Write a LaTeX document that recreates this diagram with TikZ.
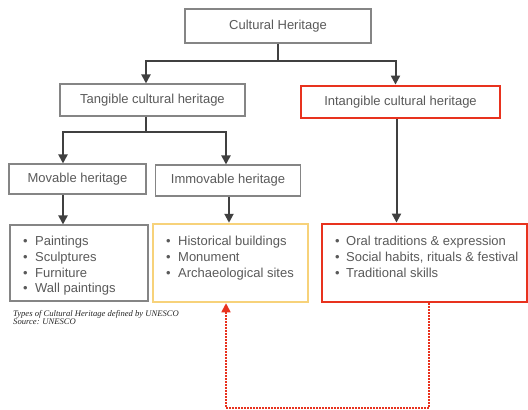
\documentclass[tikz,border=0pt]{standalone}
\usepackage{fontspec}
\setmainfont{Liberation Sans}
\newfontfamily\capfont{Liberation Serif}
\usetikzlibrary{arrows.meta}
\definecolor{txt}{HTML}{5A5A5A}
\definecolor{bord}{HTML}{858585}
\definecolor{arrc}{HTML}{404040}
\definecolor{redc}{HTML}{E8321E}
\definecolor{yelc}{HTML}{F7D27A}
\newcommand{\bl}{\makebox[12pt][l]{•}}
\begin{document}
\begin{tikzpicture}[x=1pt,y=-1pt,
  box/.style={draw=bord,line width=1.1pt,text=txt,font=\fontsize{13}{15}\selectfont,inner sep=0pt},
  lst/.style={text=txt,font=\fontsize{13}{15.7}\selectfont,align=left,inner sep=0pt,anchor=north west},
  arr/.style={draw=arrc,line width=2pt,-{Triangle[width=9pt,length=9pt]}},
  dots/.style={draw=redc,line width=1.6pt,dash pattern=on 1.6pt off 1.4pt,-{Triangle[width=9pt,length=9pt]}}]
\useasboundingbox (0,0) rectangle (528,410);
\fill[white] (0,0) rectangle (528,410);
% top level
\node[box,minimum width=186pt,minimum height=34pt] (ch) at (278,26) {Cultural Heritage};
\node[box,minimum width=185pt,minimum height=32pt] (tang) at (152.5,100) {Tangible cultural heritage};
\node[box,draw=redc,line width=2.8pt,minimum width=199pt,minimum height=32pt] (intang) at (400.5,102) {Intangible cultural heritage};
\node[box,minimum width=137pt,minimum height=30pt] (mov) at (77.5,179) {Movable heritage};
\node[box,minimum width=145pt,minimum height=31pt] (imm) at (228,180.5) {Immovable heritage};
% item boxes
\node[box,minimum width=138pt,minimum height=76pt] (movl) at (79,263) {};
\node[box,draw=yelc,line width=2.5pt,minimum width=155pt,minimum height=78pt] (imml) at (230.5,263) {};
\node[box,draw=redc,line width=2.8pt,minimum width=205pt,minimum height=78pt] (intl) at (424.5,263) {};
\node[lst] (movt) at (23,236) {\bl Paintings\\\bl Sculptures\\\bl Furniture\\\bl Wall paintings};
\node[lst] (immt) at (166,236) {\bl Historical buildings\\\bl Monument\\\bl Archaeological sites};
\node[lst] (intt) at (335,236) {\makebox[11pt][l]{•}Oral traditions \& expression\\\makebox[11pt][l]{•}Social habits, rituals \& festival\\\makebox[11pt][l]{•}Traditional skills};
% caption
\node[inner sep=0pt,anchor=north west,align=left,font=\capfont\itshape\fontsize{8.6}{8}\selectfont,text=black!85] (cap) at (13,310) {Types of Cultural Heritage defined by UNESCO\\Source: UNESCO};
% connectors
\coordinate (j1) at (278,61);
\draw[arr] (ch.south) -- (j1) -| ([xshift=-6.5pt]tang.north);
\draw[arr] (j1) -| ([xshift=-5pt]intang.north);
\coordinate (j2) at (146,132);
\draw[arr] ([xshift=-6.5pt]tang.south) -- (j2) -| ([xshift=-14.5pt]mov.north);
\draw[arr] (j2) -| ([xshift=-2pt]imm.north);
\draw[arr] ([xshift=-14.5pt]mov.south) -- ([xshift=-16pt]movl.north);
\draw[arr] ([xshift=1pt]imm.south) -- ([xshift=-1.5pt]imml.north);
\draw[arr] ([xshift=-4pt]intang.south) -- ([xshift=-28pt]intl.north);
\coordinate (d1) at (429,408);
\draw[dots] ([xshift=4.5pt]intl.south) -- (d1) -| ([xshift=-4.5pt]imml.south);
\end{tikzpicture}
\end{document}
